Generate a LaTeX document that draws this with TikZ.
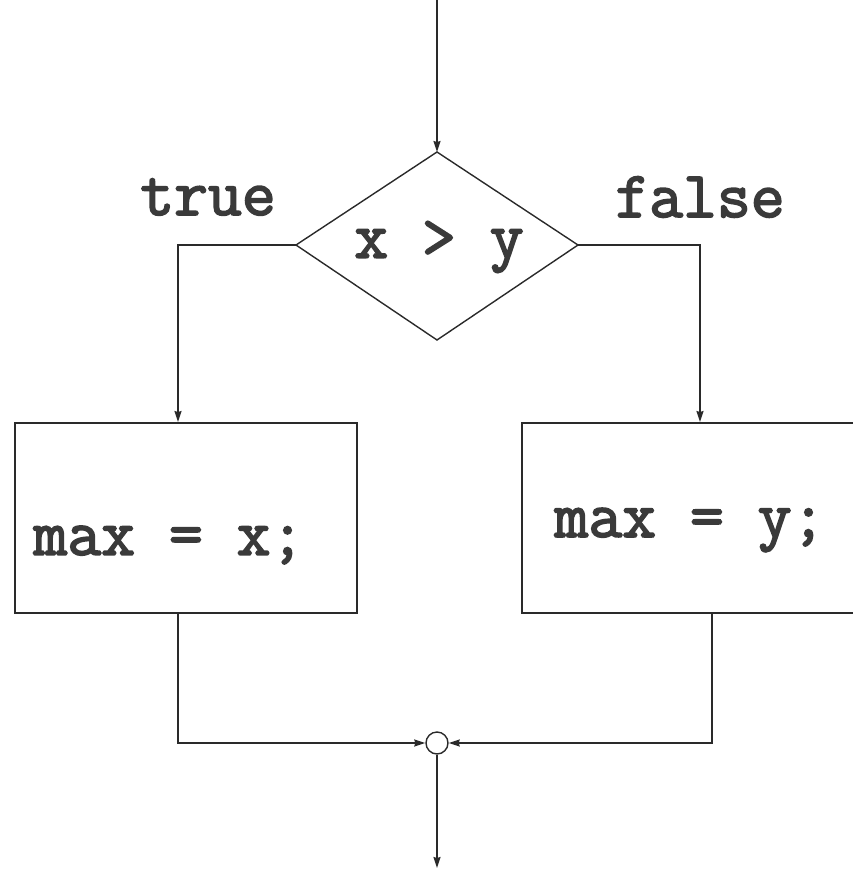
\documentclass[tikz,border=0pt]{standalone}
\usepackage{fontspec}
\setmonofont{Latin Modern Mono}[FakeBold=2.5]
\usetikzlibrary{shapes.geometric,arrows.meta}
\definecolor{ln}{HTML}{2A2A2A}
\definecolor{tx}{HTML}{3A3A3A}
\begin{document}
\begin{tikzpicture}[x=1bp,y=-1bp,
  line width=1.6bp, draw=ln,
  arr/.style={-{Stealth[length=11bp,width=7bp,inset=1bp]}},
  lbl/.style={font=\fontsize{66}{66}\selectfont\ttfamily, text=tx, inner sep=0pt},
  box/.style={draw=ln, line width=1.6bp, rectangle, inner sep=0pt, anchor=north west}]
\useasboundingbox (0,0) rectangle (853,871);
\clip (0,0) rectangle (853,871);
\coordinate (top) at (437,0);
\coordinate (bot) at (437,868);
\draw[line width=1.4bp] (296,245) coordinate (dl) -- (437,152) coordinate (dt) -- (578,245) coordinate (dr) -- (437,340) -- cycle;
\node[lbl] (cond) at (439,247) {x > y};
\node[lbl] (t) at (208,197) {true};
\node[lbl] (f) at (700,197) {false};
\node[box, minimum width=342bp, minimum height=190bp] (lb) at (14,422) {};
\node[box, minimum width=360bp, minimum height=190bp] (rb) at (521,422) {};
\node[lbl] (lt) at (169,545) {max = x;};
\node[lbl] (rt) at (690,530) {max = y;};
\node[circle, draw=ln, line width=1.4bp, minimum size=22bp, inner sep=0pt] (j) at (437,743) {};
\draw[arr] (top) -- (dt);
\draw[arr] (dl) -| (lb.north -| 178,0);
\draw[arr] (dr) -| (rb.north -| 700,0);
\draw[arr] (lb.south -| 178,0) |- (j.west);
\draw[arr] (rb.south -| 712,0) |- (j.east);
\draw[arr] (j.south) -- (bot);
\end{tikzpicture}
\end{document}
